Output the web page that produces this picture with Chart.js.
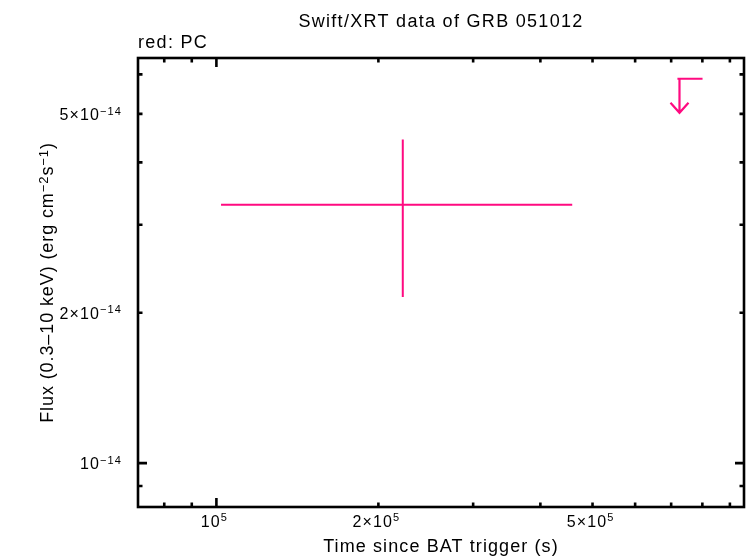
<!DOCTYPE html>
<html>
<head>
<meta charset="utf-8">
<script src="https://cdn.jsdelivr.net/npm/chart.js@4"></script>
<style>
  body { margin: 0; background: #fff; }
  #box { width: 746px; height: 558px; }
</style>
</head>
<body>
<div id="box"><canvas id="lc"></canvas></div>
<script>
// PC mode data point (time in s, flux in erg/cm2/s)
var pcTime = [2.22e5];
var pcTimeLo = [1.02e5];
var pcTimeHi = [4.584e5];
var pcFlux = [3.29e-14];
var pcFluxLo = [2.151e-14];
var pcFluxHi = [4.446e-14];

// PC mode upper limit
var ulTime = [7.254e5];
var ulTimeLo = [7.19e5];
var ulTimeHi = [8.006e5];
var ulFlux = [5.88e-14];

// axis ranges and ticks
var xMin = 71500, xMax = 956000;
var yMin = 8.17e-15, yMax = 6.47e-14;
var xMajor = [1e5];
var xMinor = [8e4, 9e4, 2e5, 3e5, 4e5, 5e5, 6e5, 7e5, 8e5, 9e5];
var xLabels = [[1e5, '10', '5'], [2e5, '2×10', '5'], [5e5, '5×10', '5']];
var yMajor = [1e-14];
var yMinor = [9e-15, 2e-14, 3e-14, 4e-14, 5e-14, 6e-14];
var yLabels = [[1e-14, '10', '−14'], [2e-14, '2×10', '−14'], [5e-14, '5×10', '−14']];

var pink = '#ff0a80';
var FONT = '"Liberation Sans", Arial, sans-serif';

// text with superscript parts: parts = [[text, isSup], ...]
function setFont(ctx, size, sup, spacing) {
    ctx.font = (sup ? Math.round(size * 0.7) : size) + 'px ' + FONT;
    ctx.letterSpacing = spacing + 'px';
}
function richWidth(ctx, parts, size, spacing) {
    var w = 0;
    parts.forEach(function(p) {
        setFont(ctx, size, p[1], spacing);
        w += ctx.measureText(p[0]).width;
    });
    return w;
}
// x, y = left end of baseline
function drawRich(ctx, parts, x, y, size, spacing) {
    ctx.textAlign = 'left';
    ctx.textBaseline = 'alphabetic';
    var raise = size * 0.73 - Math.round(size * 0.7) * 0.73 + size * 0.1;
    parts.forEach(function(p) {
        setFont(ctx, size, p[1], spacing);
        ctx.fillText(p[0], x, p[1] ? y - raise : y);
        x += ctx.measureText(p[0]).width;
    });
}

var frame = {
    id: 'frame',
    afterDatasetsDraw: function(chart) {
        var ctx = chart.ctx, a = chart.chartArea;
        var sx = chart.scales.x, sy = chart.scales.y;
        ctx.save();

        // error bars
        ctx.strokeStyle = pink;
        ctx.lineWidth = 2;
        ctx.beginPath();
        for (var i = 0; i < pcTime.length; i++) {
            var px = sx.getPixelForValue(pcTime[i]);
            var py = sy.getPixelForValue(pcFlux[i]);
            ctx.moveTo(sx.getPixelForValue(pcTimeLo[i]), py);
            ctx.lineTo(sx.getPixelForValue(pcTimeHi[i]), py);
            ctx.moveTo(px, sy.getPixelForValue(pcFluxLo[i]));
            ctx.lineTo(px, sy.getPixelForValue(pcFluxHi[i]));
        }
        ctx.stroke();

        // upper limits
        ctx.lineWidth = 2.2;
        ctx.beginPath();
        for (var j = 0; j < ulTime.length; j++) {
            var ux = sx.getPixelForValue(ulTime[j]);
            var uy = sy.getPixelForValue(ulFlux[j]);
            ctx.moveTo(sx.getPixelForValue(ulTimeLo[j]), uy);
            ctx.lineTo(sx.getPixelForValue(ulTimeHi[j]), uy);
            ctx.moveTo(ux, uy);
            ctx.lineTo(ux, uy + 34);
            ctx.moveTo(ux - 9, uy + 24);
            ctx.lineTo(ux, uy + 34);
            ctx.lineTo(ux + 9, uy + 24);
        }
        ctx.stroke();

        // box
        ctx.strokeStyle = '#000';
        ctx.lineWidth = 2.6;
        ctx.strokeRect(a.left, a.top, a.right - a.left, a.bottom - a.top);

        // ticks, mirrored on all sides
        ctx.lineWidth = 2.6;
        ctx.beginPath();
        function xt(v, len) {
            var p = sx.getPixelForValue(v);
            ctx.moveTo(p, a.bottom); ctx.lineTo(p, a.bottom - len);
            ctx.moveTo(p, a.top); ctx.lineTo(p, a.top + len);
        }
        function yt(v, len) {
            var p = sy.getPixelForValue(v);
            ctx.moveTo(a.left, p); ctx.lineTo(a.left + len, p);
            ctx.moveTo(a.right, p); ctx.lineTo(a.right - len, p);
        }
        xMajor.forEach(function(v) { xt(v, 9); });
        xMinor.forEach(function(v) { xt(v, 4.5); });
        yMajor.forEach(function(v) { yt(v, 9); });
        yMinor.forEach(function(v) { yt(v, 4.5); });
        ctx.stroke();

        // tick labels
        ctx.fillStyle = '#000';
        xLabels.forEach(function(l) {
            var parts = [[l[1], 0], [l[2], 1]];
            var w = richWidth(ctx, parts, 16, 1.1);
            drawRich(ctx, parts, sx.getPixelForValue(l[0]) - w / 2 - 2, 526.5, 16, 1.1);
        });
        yLabels.forEach(function(l) {
            var parts = [[l[1], 0], [l[2], 1]];
            var w = richWidth(ctx, parts, 16, 1.1);
            drawRich(ctx, parts, 122 - w, sy.getPixelForValue(l[0]) + 6, 16, 1.1);
        });

        // titles
        setFont(ctx, 18, 0, 1.3);
        ctx.textAlign = 'center';
        ctx.textBaseline = 'alphabetic';
        ctx.fillText('Swift/XRT data of GRB 051012', (a.left + a.right) / 2, 27);
        setFont(ctx, 18, 0, 1.1);
        ctx.fillText('Time since BAT trigger (s)', (a.left + a.right) / 2, 552);
        setFont(ctx, 18, 0, 1.3);
        ctx.textAlign = 'left';
        ctx.fillText('red: PC', a.left, 48);

        // y axis title with superscripts, rotated
        var yParts = [['Flux (0.3–10 keV) (erg cm', 0], ['−2', 1], ['s', 0], ['−1', 1], [')', 0]];
        var total = richWidth(ctx, yParts, 18, 0.9);
        ctx.translate(53, (a.top + a.bottom) / 2);
        ctx.rotate(-Math.PI / 2);
        drawRich(ctx, yParts, -total / 2, 0, 18, 0.9);
        ctx.restore();
    }
};

new Chart(document.getElementById('lc').getContext('2d'), {
    type: 'scatter',
    data: {
        datasets: [{
            label: 'PC',
            data: pcTime.map(function(t, i) { return { x: t, y: pcFlux[i] }; }),
            pointRadius: 0,
            showLine: false
        }]
    },
    options: {
        responsive: true,
        maintainAspectRatio: false,
        animation: false,
        layout: { padding: { left: 138, right: 2, top: 58, bottom: 51 } },
        plugins: { legend: { display: false }, tooltip: { enabled: false } },
        scales: {
            x: { type: 'logarithmic', min: xMin, max: xMax, display: false },
            y: { type: 'logarithmic', min: yMin, max: yMax, display: false }
        }
    },
    plugins: [frame]
});
</script>
</body>
</html>
